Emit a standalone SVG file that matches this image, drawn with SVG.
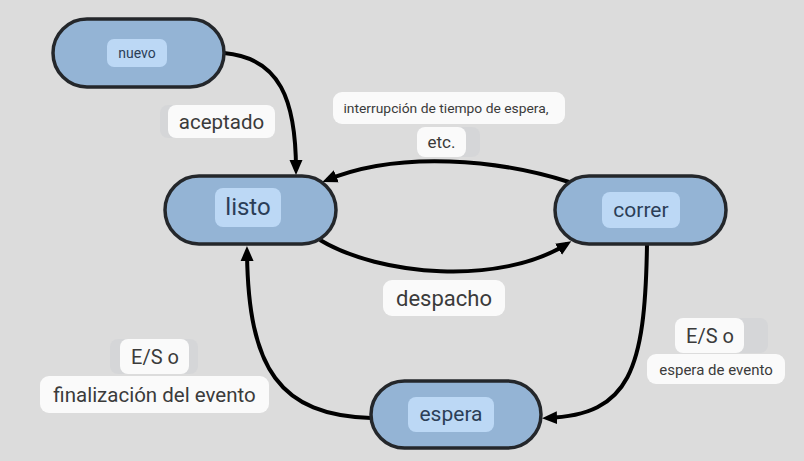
<svg xmlns="http://www.w3.org/2000/svg" width="804" height="461" viewBox="0 0 804 461">
<defs>
<style>
.node{fill:#94b4d5;stroke:#24272b;stroke-width:3.5}
.nlab{fill:#bcd8f5}
.ntxt{font-family:Roboto,"Liberation Sans",sans-serif;fill:#2b3e57;text-anchor:middle;dominant-baseline:central}
.lab{fill:#fafafa}
.shd{fill:#d5d6d8}
.ltxt{font-family:Roboto,"Liberation Sans",sans-serif;fill:#3b3b3b;text-anchor:middle;dominant-baseline:central}
.edge{fill:none;stroke:#000;stroke-width:4;marker-end:url(#arr)}
</style>
<marker id="arr" markerUnits="userSpaceOnUse" markerWidth="16" markerHeight="14" refX="10" refY="6.5" orient="auto" viewBox="0 0 16 13">
<path d="M0,0 L15,6.5 L0,13 z" fill="#000"/>
</marker>
</defs>
<rect width="804" height="461" fill="#dcdcdc"/>

<g id="connectors">
<path class="edge" d="M224,53 C280,58 296,100 296,170"/>
<path class="edge" d="M569,182 C500,160 400,150 327,180"/>
<path class="edge" d="M320,240 C380,276 500,286 567,244"/>
<path class="edge" d="M647,245 C645,370 630,415 547,418"/>
<path class="edge" d="M371,418 C280,415 248,370 247,251"/>
</g>

<g id="labels">
<g id="lab-aceptado">
<rect class="shd" x="160" y="105" width="115" height="33" rx="8"/>
<rect class="lab" x="168" y="105" width="107" height="33" rx="8"/>
<text class="ltxt" x="221.5" y="122" font-size="20.5">aceptado</text>
</g>
<g id="lab-interrupcion">
<rect class="lab" x="333" y="92" width="232" height="32" rx="9"/>
<text class="ltxt" x="446" y="108" font-size="13.5" textLength="205" lengthAdjust="spacingAndGlyphs">interrupción de tiempo de espera,</text>
</g>
<g id="lab-etc">
<rect class="shd" x="417" y="127" width="63" height="30" rx="8"/>
<rect class="lab" x="417" y="127" width="49" height="30" rx="8"/>
<text class="ltxt" x="441.5" y="142" font-size="17">etc.</text>
</g>
<g id="lab-despacho">
<rect class="lab" x="383" y="280" width="122" height="36" rx="9"/>
<text class="ltxt" x="444" y="298" font-size="22">despacho</text>
</g>
<g id="lab-es-left">
<rect class="shd" x="110" y="339" width="88" height="35" rx="8"/>
<rect class="lab" x="120" y="339" width="69" height="35" rx="8"/>
<text class="ltxt" x="155" y="357" font-size="20">E/S o</text>
<rect class="lab" x="40" y="376" width="229" height="37" rx="9"/>
<text class="ltxt" x="154.5" y="395" font-size="20.5">finalización del evento</text>
</g>
<g id="lab-es-right">
<rect class="shd" x="675" y="318" width="93" height="35" rx="8"/>
<rect class="lab" x="675" y="318" width="69" height="35" rx="8"/>
<text class="ltxt" x="710" y="336" font-size="20">E/S o</text>
<rect class="lab" x="647" y="354" width="138" height="30" rx="9"/>
<text class="ltxt" x="716" y="369.5" font-size="15">espera de evento</text>
</g>
</g>

<g id="nuevo">
<rect class="node" x="53" y="19" width="171" height="68" rx="34"/>
<rect class="nlab" x="107" y="39" width="60" height="28" rx="7"/>
<text class="ntxt" x="137" y="53" font-size="14">nuevo</text>
</g>
<g id="listo">
<rect class="node" x="165" y="176" width="171" height="68" rx="34"/>
<rect class="nlab" x="215" y="188" width="66" height="39" rx="8"/>
<text class="ntxt" x="248" y="207" font-size="24">listo</text>
</g>
<g id="correr">
<rect class="node" x="555" y="176" width="171" height="68" rx="34"/>
<rect class="nlab" x="602" y="192" width="78" height="36" rx="8"/>
<text class="ntxt" x="641" y="210" font-size="21">correr</text>
</g>
<g id="espera">
<rect class="node" x="371" y="381" width="170" height="67" rx="33.5"/>
<rect class="nlab" x="408" y="397" width="86" height="35" rx="8"/>
<text class="ntxt" x="451" y="414" font-size="21">espera</text>
</g>
</svg>
